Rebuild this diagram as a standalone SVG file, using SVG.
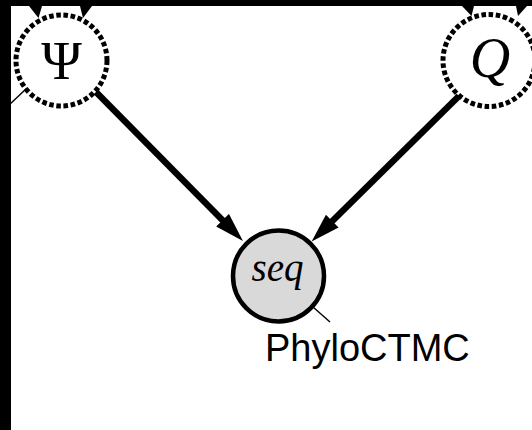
<svg xmlns="http://www.w3.org/2000/svg" width="532" height="430" viewBox="0 0 532 430">
  <style>
    .latent { fill: #ffffff; stroke: #000000; stroke-width: 5; stroke-dasharray: 4.6 2.6; }
    .observed { fill: #d9d9d9; stroke: #000000; stroke-width: 4.5; }
    .edge { stroke: #000000; stroke-width: 6.5; fill: none; }
    .leader { stroke: #000000; stroke-width: 1.4; fill: none; }
    .math { font-family: "Liberation Serif", "DejaVu Serif", serif; fill: #000000; }
    .label { font-family: "Liberation Sans", Arial, sans-serif; fill: #000000; }
  </style>
  <defs>
    <marker id="arrow" markerUnits="userSpaceOnUse" markerWidth="32" markerHeight="22" refX="13" refY="9" orient="auto">
      <path d="M0,0 L29,9 L0,18 z" fill="#000000"/>
    </marker>
  </defs>
  <rect x="0" y="0" width="532" height="430" fill="#ffffff"/>

  <g id="connectors">
    <line class="edge" x1="96" y1="92" x2="231.7" y2="229.5" marker-end="url(#arrow)"/>
    <line class="edge" x1="459" y1="96" x2="323" y2="230.2" marker-end="url(#arrow)"/>
    <polygon points="29,6 42,6 38.5,18" fill="#000000"/>
    <polygon points="80,6 92,6 83,18" fill="#000000"/>
    <polygon points="462,6 474,6 471.5,16" fill="#000000"/>
    <polygon points="516,6 527,6 518,16" fill="#000000"/>
  </g>

  <g id="node-psi">
    <circle class="latent" cx="61.5" cy="60.5" r="45.5"/>
    <text class="math" x="61.5" y="79" font-size="55" text-anchor="middle">Ψ</text>
    <line class="leader" x1="27" y1="88" x2="8" y2="106"/>
  </g>

  <g id="node-q">
    <circle class="latent" cx="489" cy="60.5" r="46"/>
    <text class="math" x="490" y="77" font-size="56" font-style="italic" text-anchor="middle">Q</text>
  </g>

  <g id="node-seq">
    <circle class="observed" cx="278.5" cy="276" r="45.5"/>
    <text class="math" x="277.5" y="281" font-size="42" font-style="italic" text-anchor="middle" textLength="52" lengthAdjust="spacingAndGlyphs">seq</text>
    <line class="leader" x1="313" y1="307" x2="330" y2="322"/>
    <text class="label" x="265" y="361" font-size="38">PhyloCTMC</text>
  </g>

  <rect x="0" y="0" width="532" height="6" fill="#000000"/>
  <rect x="0" y="0" width="11" height="430" fill="#000000"/>
</svg>
